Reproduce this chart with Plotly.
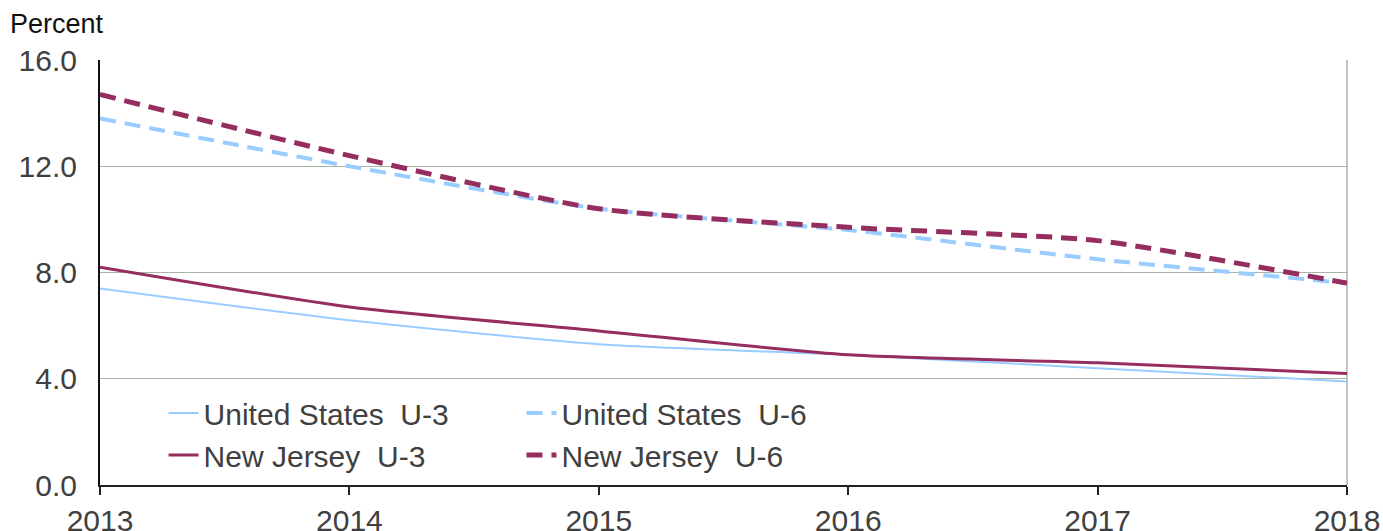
import plotly.graph_objects as go

years = [2013, 2014, 2015, 2016, 2017, 2018]
us_u3 = [7.4, 6.2, 5.3, 4.9, 4.4, 3.9]
us_u6 = [13.8, 12.0, 10.4, 9.6, 8.5, 7.6]
nj_u3 = [8.2, 6.7, 5.8, 4.9, 4.6, 4.2]
nj_u6 = [14.7, 12.4, 10.4, 9.7, 9.2, 7.6]
y_ticks = [0, 4, 8, 12, 16]
y_tick_labels = ["0.0", "4.0", "8.0", "12.0", "16.0"]

BLUE = "#99CCFF"
MAROON = "#952D5F"
GRID = "#A9B3A6"
FONT = "Liberation Sans, Arial, sans-serif"

fig = go.Figure()
fig.add_trace(go.Scatter(x=years, y=us_u3, mode="lines", name="United States  U-3",
                         line=dict(color=BLUE, width=2, shape="spline", smoothing=0.6),
                         legend="legend"))
fig.add_trace(go.Scatter(x=years, y=nj_u3, mode="lines", name="New Jersey  U-3",
                         line=dict(color=MAROON, width=3, shape="spline", smoothing=0.6),
                         legend="legend"))
fig.add_trace(go.Scatter(x=years, y=us_u6, mode="lines", name="United States  U-6",
                         line=dict(color=BLUE, width=4, dash="16px,9px", shape="spline", smoothing=0.6),
                         legend="legend2"))
fig.add_trace(go.Scatter(x=years, y=nj_u6, mode="lines", name="New Jersey  U-6",
                         line=dict(color=MAROON, width=5, dash="16px,9px", shape="spline", smoothing=0.6),
                         legend="legend2"))

legend_common = dict(font=dict(family=FONT, size=30, color="#404040"),
                     bgcolor="rgba(0,0,0,0)", borderwidth=0,
                     orientation="v", xanchor="left", yanchor="middle")
fig.update_layout(
    width=1383, height=531,
    margin=dict(l=100, r=36, t=60, b=46, autoexpand=False),
    paper_bgcolor="white", plot_bgcolor="white",
    font=dict(family=FONT, color="#404040"),
    legend=dict(x=0.051, y=0.12, **legend_common),
    legend2=dict(x=0.338, y=0.12, **legend_common),
    annotations=[dict(text="Percent", xref="paper", yref="paper", x=-0.074, y=1.045,
                      xanchor="left", yanchor="bottom", showarrow=False,
                      font=dict(family=FONT, size=27, color="#111111"))],
)
fig.update_xaxes(range=[2013, 2018], tickvals=years, ticktext=[str(y) for y in years],
                 showgrid=False, showline=True, linecolor="#222222", linewidth=2,
                 ticks="outside", ticklen=8, tickwidth=2, tickcolor="#222222",
                 tickfont=dict(family=FONT, size=30, color="#404040"), zeroline=False,
                 automargin=False)
fig.update_yaxes(range=[0, 16], tickvals=y_ticks, ticktext=y_tick_labels,
                 showgrid=True, gridcolor=GRID, gridwidth=1.2,
                 showline=True, linecolor="#111111", linewidth=2,
                 ticks="", ticklabelstandoff=15,
                 tickfont=dict(family=FONT, size=30, color="#404040"), zeroline=False,
                 automargin=False)
# right border line at 2018
fig.add_shape(type="line", xref="paper", yref="paper", x0=1, x1=1, y0=0, y1=1,
              line=dict(color=GRID, width=1.5), layer="below")

fig.write_html("out.html", config={"displayModeBar": False},
               post_script="document.body.style.margin='0';document.body.style.overflow='hidden';")
